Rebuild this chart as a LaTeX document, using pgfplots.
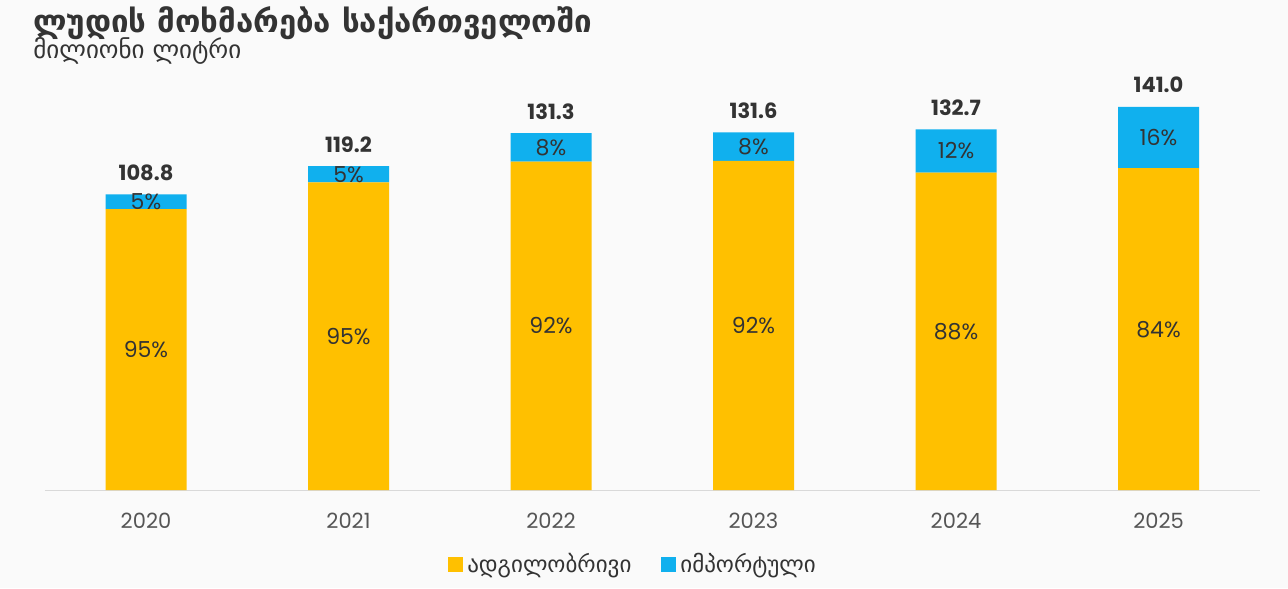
\documentclass[border=0pt]{standalone}
\usepackage{pgfplots}
\pgfplotsset{compat=1.18}
\usepackage{fontspec}
\setmainfont{Poppins}
\newfontfamily\geo{DejaVu Sans}
\definecolor{yel}{HTML}{FFC000}
\definecolor{blu}{HTML}{10B0EE}
\definecolor{txt}{HTML}{333333}
\definecolor{tick}{HTML}{555555}
\definecolor{bg}{HTML}{FAFAFA}
\begin{document}
\begin{tikzpicture}[x=1pt,y=1pt]
\fill[bg] (0,0) rectangle (644,294);
\node[anchor=base west, inner sep=0, text=txt] at (16.5,277.5) {\geo\bfseries\fontsize{15.6}{18}\selectfont ლუდის მოხმარება საქართველოში};
\node[anchor=base west, inner sep=0, text=txt] at (16.5,264.5) {\geo\fontsize{12.5}{14}\selectfont მილიონი ლიტრი};
\begin{axis}[
  at={(72.1,36)}, anchor=origin,
  scale only axis, width=607.5pt, height=217.5pt,
  xmin=-0.5, xmax=5.5, ymin=0, ymax=160,
  ybar stacked, bar width=40.5pt,
  axis x line*=bottom, axis y line=none,
  axis line style={draw=black!15, line width=0.6pt, -},
  xtick={0,1,2,3,4,5},
  xticklabels={2020,2021,2022,2023,2024,2025},
  major tick length=0pt,
  xticklabel style={font=\fontsize{10.5}{12}\selectfont, text=tick, anchor=base, yshift=-19pt},
  legend style={at={(0.485,-0.17)}, anchor=center, draw=none, fill=none,
    legend columns=2, font=\geo\fontsize{11.5}{13}\selectfont, text=txt,
    /tikz/every even column/.append style={column sep=13pt}},
  legend cell align=left,
]
\addplot[fill=yel, draw=none, legend image code/.code={\fill[yel] (0pt,-3.75pt) rectangle (7.5pt,3.75pt);}] coordinates {(0,103.4) (1,113.2) (2,120.8) (3,121.1) (4,116.8) (5,118.4)};
\addlegendentry{ადგილობრივი}
\addplot[fill=blu, draw=none, legend image code/.code={\fill[blu] (0pt,-3.75pt) rectangle (7.5pt,3.75pt);}] coordinates {(0,5.4) (1,6.0) (2,10.5) (3,10.5) (4,15.9) (5,22.6)};
\addlegendentry{იმპორტული}
\end{axis}
\begin{axis}[
  at={(72.1,36)}, anchor=origin,
  scale only axis, width=607.5pt, height=217.5pt,
  xmin=-0.5, xmax=5.5, ymin=0, ymax=160,
  hide axis, clip=false,
]
\addplot[draw=none, mark=none, nodes near coords, point meta=explicit symbolic,
  every node near coord/.style={anchor=center, text=txt, font=\fontsize{11}{13}\selectfont}]
  coordinates {(0,51.7)[95\%] (1,56.6)[95\%] (2,60.4)[92\%] (3,60.55)[92\%] (4,58.4)[88\%] (5,59.2)[84\%]};
\addplot[draw=none, mark=none, nodes near coords, point meta=explicit symbolic,
  every node near coord/.style={anchor=center, text=txt, font=\fontsize{11}{13}\selectfont}]
  coordinates {(0,106.1)[5\%] (1,116.2)[5\%] (2,126.05)[8\%] (3,126.35)[8\%] (4,124.75)[12\%] (5,129.7)[16\%]};
\addplot[draw=none, mark=none, nodes near coords, point meta=explicit symbolic,
  every node near coord/.style={anchor=base, yshift=7pt, text=txt, font=\bfseries\fontsize{10.5}{12}\selectfont}]
  coordinates {(0,108.8)[108.8] (1,119.2)[119.2] (2,131.3)[131.3] (3,131.6)[131.6] (4,132.7)[132.7] (5,141.0)[141.0]};
\end{axis}
\pgfresetboundingbox
\path[use as bounding box] (0,0) rectangle (644,294);
\end{tikzpicture}
\end{document}
